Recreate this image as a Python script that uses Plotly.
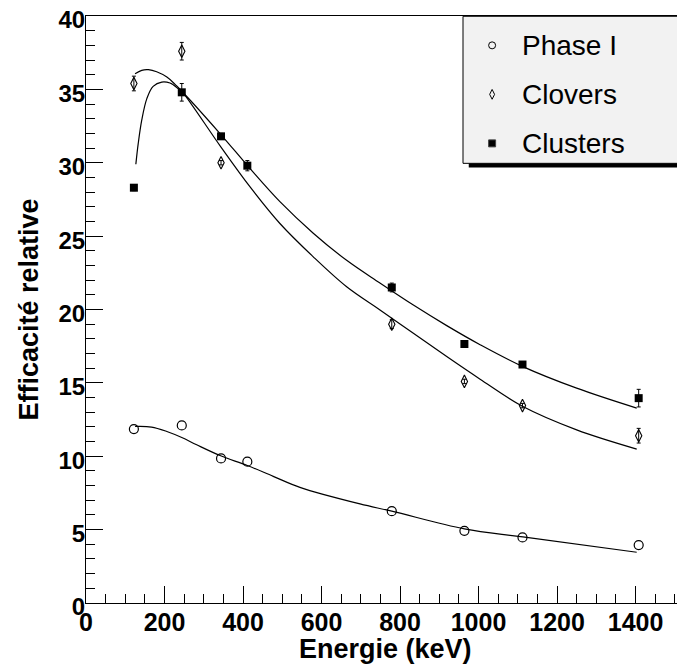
import plotly.graph_objects as go

# ---------------- data ----------------
energies_phase = [122, 244, 344, 411, 779, 964, 1112, 1408]
eff_phase = [11.85, 12.1, 9.85, 9.63, 6.26, 4.92, 4.47, 3.95]

energies_clover = [122, 244, 344, 779, 964, 1112, 1408]
eff_clover = [35.4, 37.6, 30.0, 19.0, 15.1, 13.45, 11.4]
err_clover = [0.5, 0.6, 0.15, 0.3, 0.15, 0.15, 0.5]

energies_cluster = [122, 244, 344, 411, 779, 964, 1112, 1408]
eff_cluster = [28.3, 34.8, 31.8, 29.8, 21.5, 17.65, 16.25, 13.96]
err_cluster = [0.2, 0.6, 0.2, 0.35, 0.3, 0.2, 0.2, 0.6]

# fit curves
fit_phase_x = [125, 167, 206, 244, 282, 343, 411, 477, 545, 698, 779, 964, 1113, 1403]
fit_phase_y = [12.03, 11.99, 11.69, 11.28, 10.78, 10.03, 9.37, 8.63, 7.88, 6.75, 6.26, 5.05, 4.5, 3.46]

fit_clover_x = [125, 142, 159, 180, 206, 227, 244, 343, 418, 494, 579, 664, 749, 834, 919, 1004, 1113, 1250, 1403]
fit_clover_y = [36.07, 36.3, 36.34, 36.2, 35.84, 35.34, 34.88, 31.1, 28.35, 25.86, 23.59, 21.55, 19.97, 18.38, 16.79, 15.25, 13.39, 11.8, 10.49]

fit_cluster_x = [127, 133, 142, 155, 171, 193, 214, 235, 248, 343, 418, 494, 579, 664, 749, 834, 919, 1004, 1113, 1250, 1403]
fit_cluster_y = [29.9, 31.3, 32.9, 34.37, 35.2, 35.5, 35.43, 35.05, 34.75, 31.94, 29.6, 27.35, 25.2, 23.35, 21.8, 20.3, 18.9, 17.6, 16.11, 14.64, 13.28]

legend_labels = ["Phase I", "Clovers", "Clusters"]
x_tickvals = [0, 200, 400, 600, 800, 1000, 1200, 1400]
y_tickvals = [0, 5, 10, 15, 20, 25, 30, 35, 40]

# ---------------- figure ----------------
fig = go.Figure()

line_style = dict(color="black", width=1.2, shape="spline", smoothing=1.0)
for fx, fy in [(fit_phase_x, fit_phase_y), (fit_clover_x, fit_clover_y), (fit_cluster_x, fit_cluster_y)]:
    fig.add_trace(go.Scatter(x=fx, y=fy, mode="lines", line=line_style,
                             showlegend=False, hoverinfo="skip"))

err_style = dict(type="data", color="black", thickness=1, width=2)
fig.add_trace(go.Scatter(
    x=energies_phase, y=eff_phase, mode="markers",
    marker=dict(symbol="circle-open", size=9, color="black", line=dict(width=1.2)),
    showlegend=False))
fig.add_trace(go.Scatter(
    x=energies_clover, y=eff_clover, mode="markers",
    error_y=dict(array=err_clover, **err_style),
    marker=dict(symbol="diamond-tall-open", size=9, color="black", line=dict(width=1.1)),
    showlegend=False))
fig.add_trace(go.Scatter(
    x=energies_cluster, y=eff_cluster, mode="markers",
    error_y=dict(array=err_cluster, **err_style),
    marker=dict(symbol="square", size=8, color="black", line=dict(width=0)),
    showlegend=False))

# legend markers on an overlay axis (paper-like 0..1)
leg_x = 0.678
leg_rows = [0.950, 0.8665, 0.783]
leg_symbols = ["circle-open", "diamond-tall-open", "square"]
leg_sizes = [7, 7, 7]
for lab, ly, sym, sz in zip(legend_labels, leg_rows, leg_symbols, leg_sizes):
    fig.add_trace(go.Scatter(x=[leg_x], y=[ly], xaxis="x2", yaxis="y2", mode="markers",
                             marker=dict(symbol=sym, size=sz, color="black", line=dict(width=1)),
                             showlegend=False, hoverinfo="skip"))
    fig.add_annotation(x=0.7245, y=ly, xref="paper", yref="paper", text=lab,
                       showarrow=False, xanchor="left", yanchor="middle",
                       font=dict(family="Liberation Sans", size=28, color="black"))

# legend box + shadow
fig.add_shape(type="rect", xref="paper", yref="paper", x0=0.639, x1=1.05, y0=0.742, y1=0.749,
              fillcolor="black", line=dict(width=0), layer="below")
fig.add_shape(type="rect", xref="paper", yref="paper", x0=0.6294, x1=1.05, y0=0.749, y1=0.9995,
              fillcolor="#f2f2f2", line=dict(color="black", width=1), layer="below")

x_tick_font = dict(family="Liberation Sans", size=25, color="black", weight="bold")
y_tick_font = dict(family="Liberation Sans", size=24, color="black", weight="bold")
title_font = dict(family="Liberation Sans", size=27, color="black", weight="bold")

fig.add_annotation(x=0.5, y=-0.078, xref="paper", yref="paper", text="Energie (keV)",
                   showarrow=False, xanchor="center", yanchor="middle", font=title_font)
fig.add_annotation(x=-0.0968, y=0.5, xref="paper", yref="paper", text="Efficacité relative",
                   showarrow=False, xanchor="center", yanchor="middle", textangle=-90, font=title_font)

# page body has an 8px margin: compensate so the frame lands where the reference has it
fig.update_layout(
    width=677, height=661,
    margin=dict(l=78, r=0, t=7.5, b=65.5, autoexpand=False),
    paper_bgcolor="white", plot_bgcolor="white",
    showlegend=False,
    xaxis=dict(range=[0, 1526], tickvals=x_tickvals, ticks="inside", ticklen=17, tickwidth=1,
               tickcolor="black", showline=True, linecolor="black", linewidth=1, mirror=True,
               showgrid=False, zeroline=False, tickfont=x_tick_font, automargin=False,
               ticklabelstandoff=-3, ticklabeloverflow="allow",
               minor=dict(dtick=50, ticks="inside", ticklen=9, tickwidth=1, tickcolor="black",
                          showgrid=False)),
    yaxis=dict(range=[0, 40], tickvals=y_tickvals, ticks="inside", ticklen=17, tickwidth=1,
               tickcolor="black", showline=True, linecolor="black", linewidth=1, mirror=False,
               showgrid=False, zeroline=False, tickfont=y_tick_font, automargin=False,
               ticklabelstandoff=-5, ticklabelshift=4, ticklabeloverflow="allow",
               minor=dict(dtick=1, ticks="inside", ticklen=9, tickwidth=1, tickcolor="black",
                          showgrid=False)),
    xaxis2=dict(overlaying="x", range=[0, 1], visible=False, domain=[0, 1]),
    yaxis2=dict(overlaying="y", range=[0, 1], visible=False),
)

fig.write_html("out.html")
